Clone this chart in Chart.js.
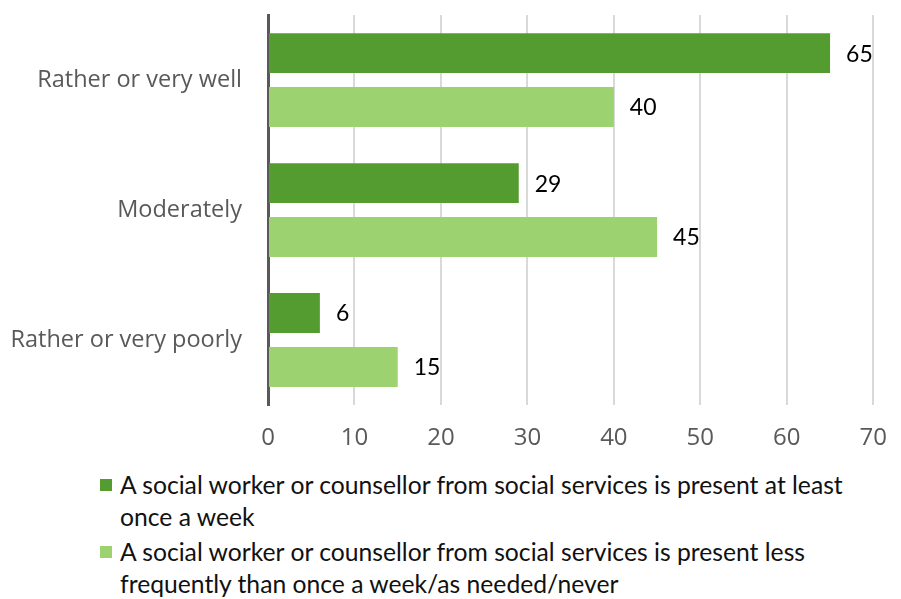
<!DOCTYPE html>
<html>
<head>
<meta charset="utf-8">
<script src="https://cdn.jsdelivr.net/npm/chart.js@4"></script>
<style>
  body { margin: 0; background: #fff; font-family: Lato, sans-serif; overflow: hidden; }
  #wrap { position: relative; width: 901px; height: 599px; overflow: hidden; }
  #chartBox { position: absolute; left: 0; top: -25px; width: 906px; height: 483px; }
  #legend { position: absolute; left: 100px; top: 469px; width: 762px; }
  .item { display: flex; align-items: flex-start; margin-bottom: 3px; }
  .swatch { width: 12px; height: 12px; margin-top: 10px; margin-right: 8px; flex: none; }
  .text { font-size: 24.7px; line-height: 32px; color: #111; }
</style>
</head>
<body>
<div id="wrap">
  <div id="chartBox"><canvas id="responseChart"></canvas></div>
  <div id="legend"></div>
</div>
<script>
// answer categories and shares (%)
const categories = ['Rather or very well', 'Moderately', 'Rather or very poorly'];
const weeklyValues = [65, 29, 6];
const lessOftenValues = [40, 45, 15];
const seriesNames = [
  'A social worker or counsellor from social services is present at least once a week',
  'A social worker or counsellor from social services is present less frequently than once a week/as needed/never'
];
const seriesColors = ['#549c30', '#9dd271'];
const xTicks = [0, 10, 20, 30, 40, 50, 60, 70];

// prints the value just past the end of each bar
const barValueLabels = {
  id: 'barValueLabels',
  afterDatasetsDraw(chart) {
    const ctx = chart.ctx;
    ctx.save();
    ctx.font = '23px Lato';
    ctx.fillStyle = '#000';
    ctx.textBaseline = 'middle';
    ctx.textAlign = 'left';
    chart.data.datasets.forEach((ds, i) => {
      chart.getDatasetMeta(i).data.forEach((bar, j) => {
        ctx.fillText(ds.data[j], bar.x + 16, bar.y + 1);
      });
    });
    ctx.restore();
  }
};

function buildLegend(chart) {
  const box = document.getElementById('legend');
  box.innerHTML = '';
  chart.data.datasets.forEach(ds => {
    const row = document.createElement('div');
    row.className = 'item';
    const sw = document.createElement('span');
    sw.className = 'swatch';
    sw.style.background = ds.backgroundColor;
    const txt = document.createElement('span');
    txt.className = 'text';
    txt.textContent = ds.label;
    row.appendChild(sw);
    row.appendChild(txt);
    box.appendChild(row);
  });
}

const ctx = document.getElementById('responseChart').getContext('2d');
const chart = new Chart(ctx, {
  type: 'bar',
  data: {
    labels: categories,
    datasets: [
      { label: seriesNames[0], data: weeklyValues, backgroundColor: seriesColors[0] },
      { label: seriesNames[1], data: lessOftenValues, backgroundColor: seriesColors[1] }
    ]
  },
  options: {
    indexAxis: 'y',
    responsive: true,
    maintainAspectRatio: false,
    animation: false,
    categoryPercentage: 0.83,
    barPercentage: 0.74,
    layout: { padding: { top: 0, right: 20, left: 0, bottom: 0 } },
    plugins: {
      legend: { display: false },
      tooltip: { enabled: false }
    },
    scales: {
      x: {
        min: 0,
        max: 70,
        afterBuildTicks: scale => { scale.ticks = xTicks.map(v => ({ value: v })); },
        afterFit: scale => { scale.height = 53; },
        grid: { color: '#d9d9d9', lineWidth: 2, drawTicks: false },
        border: { display: false },
        ticks: { padding: 19, color: '#595959', font: { family: 'Open Sans', size: 24 } }
      },
      y: {
        afterFit: scale => { scale.width = 268; },
        grid: { display: false, drawTicks: false },
        border: { color: '#595959', width: 3 },
        ticks: { padding: 26, color: '#595959', font: { family: 'Open Sans', size: 23.5 } }
      }
    }
  },
  plugins: [barValueLabels]
});

buildLegend(chart);
</script>
</body>
</html>
